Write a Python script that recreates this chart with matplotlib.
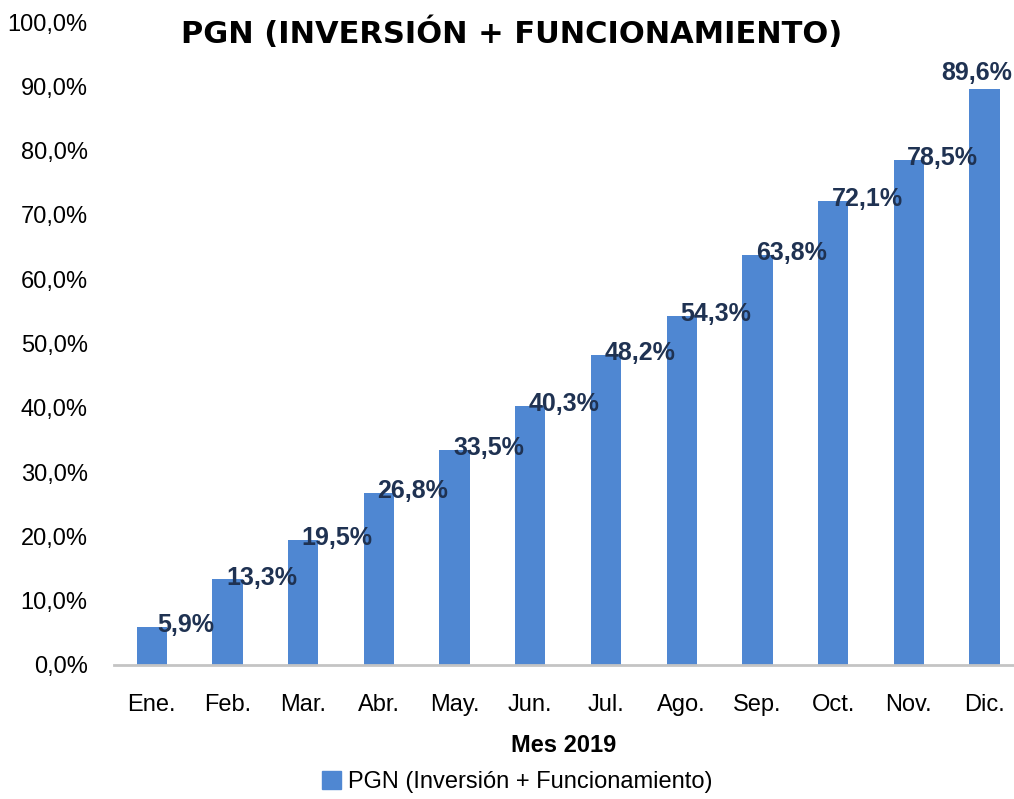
import matplotlib
matplotlib.use("Agg")
import matplotlib.pyplot as plt
from matplotlib import font_manager
from matplotlib.patches import Patch

meses = ["Ene.", "Feb.", "Mar.", "Abr.", "May.", "Jun.", "Jul.", "Ago.",
         "Sep.", "Oct.", "Nov.", "Dic."]
ejecucion = [5.9, 13.3, 19.5, 26.8, 33.5, 40.3, 48.2, 54.3, 63.8, 72.1, 78.5, 89.6]
yticks = [0, 10, 20, 30, 40, 50, 60, 70, 80, 90, 100]

names = {f.name for f in font_manager.fontManager.ttflist}
narrow = "Liberation Sans Narrow" if "Liberation Sans Narrow" in names else "Liberation Sans"

bar_col = "#4f87d2"
lab_col = "#1f3252"

fig = plt.figure(figsize=(10.14, 7.99), dpi=100)
ax = fig.add_axes([114 / 1014, 1 - 665 / 799, (1014 - 114) / 1014, (665 - 22) / 799])

x = range(len(meses))
ax.bar(x, ejecucion, width=0.4, color=bar_col, zorder=2)
ax.set_xlim(-0.5, 11.39)
ax.set_ylim(0, 100)

for i, v in enumerate(ejecucion):
    txt = f"{v:.1f}%".replace(".", ",")
    if i == len(ejecucion) - 1:
        ax.text(i - 0.1, v + 0.6, txt, ha="center", va="bottom", fontsize=18,
                fontweight="bold", color=lab_col, family=narrow)
    else:
        ax.text(i + 0.45, v + 0.3, txt, ha="center", va="center", fontsize=18,
                fontweight="bold", color=lab_col, family=narrow)

ax.set_yticks(yticks)
ax.set_yticklabels([f"{t:.1f}%".replace(".", ",") for t in yticks],
                   family=narrow, fontsize=17)
ax.set_xticks(list(x))
ax.set_xticklabels(meses, family=narrow, fontsize=17)
ax.tick_params(axis="x", length=0, pad=21)
ax.tick_params(axis="y", length=0, pad=19)
for s in ["top", "right", "left"]:
    ax.spines[s].set_visible(False)
ax.spines["bottom"].set_color("#c4c4c4")
ax.spines["bottom"].set_linewidth(2)

ax.set_xlabel("Mes 2019", family=narrow, fontsize=17, fontweight="bold", labelpad=13)

fig.text(0.505, 1 - 33 / 799, "PGN (INVERSIÓN + FUNCIONAMIENTO)", ha="center",
         va="center", fontsize=22, fontweight="bold", family="DejaVu Sans")

ax.legend(handles=[Patch(color=bar_col, label="PGN (Inversión + Funcionamiento)")],
          loc="center", bbox_to_anchor=(517 / 1014, 1 - 782 / 799),
          bbox_transform=fig.transFigure, frameon=False,
          prop={"family": narrow, "size": 17}, handlelength=0.8,
          handleheight=0.8, handletextpad=0.3)

fig.savefig("out.png", dpi=100)
